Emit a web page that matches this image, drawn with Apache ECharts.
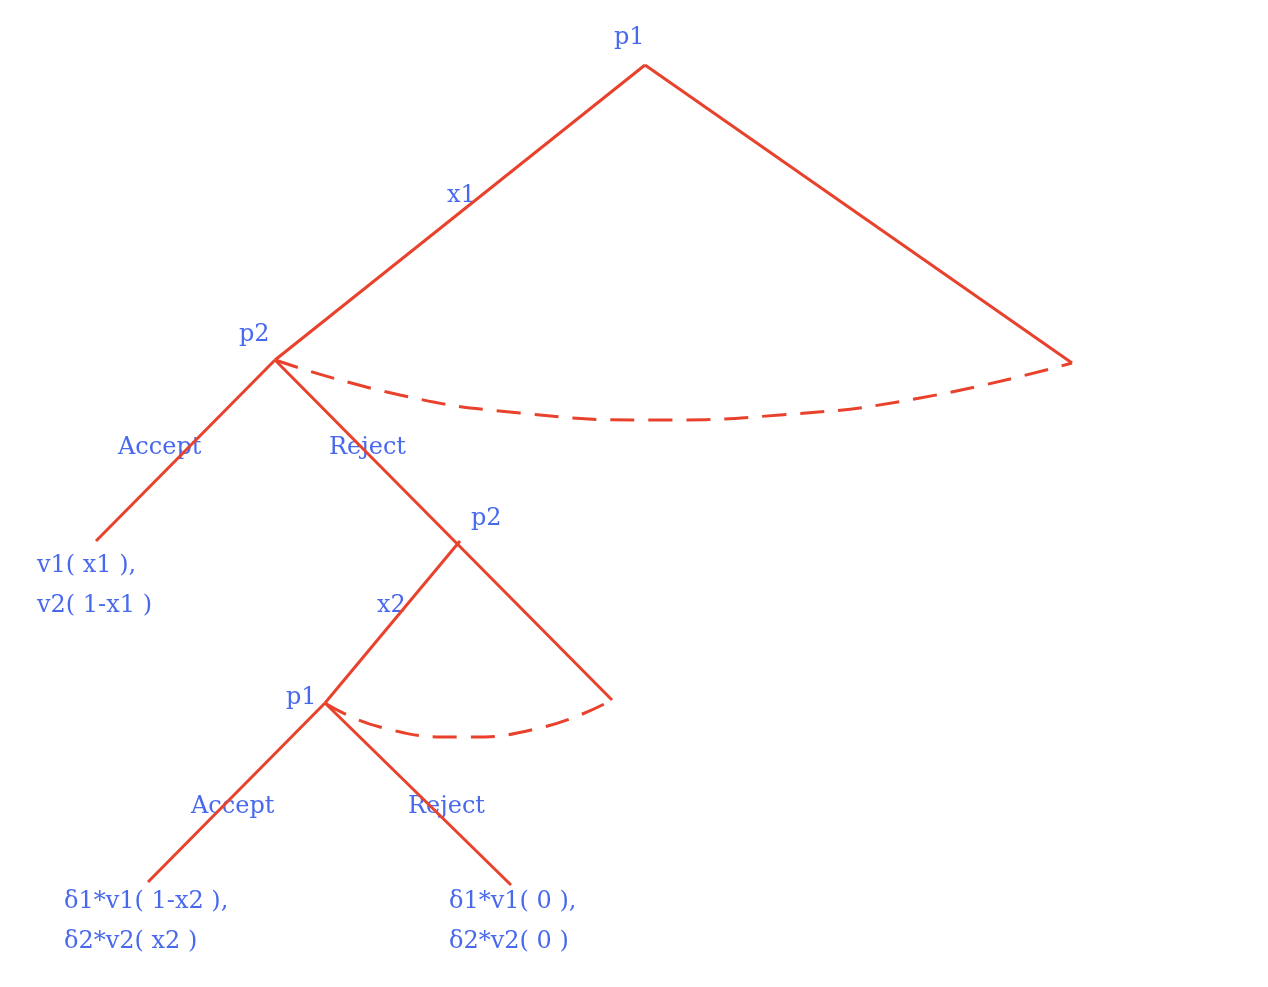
<!DOCTYPE html>
<html>
<head>
<meta charset="utf-8">
<script src="https://cdn.jsdelivr.net/npm/echarts@6/dist/echarts.min.js"></script>
<style>html,body{margin:0;padding:0;background:#fff}#chart{width:1268px;height:987px}</style>
</head>
<body>
<div id="chart"></div>
<script>
// tree edges: [x1, y1, x2, y2] in page coordinates
var edges = [
    [645, 65, 275, 360],
    [645, 65, 1072, 363],
    [275, 360, 96, 541],
    [275, 360, 612, 700],
    [460, 541, 325, 703],
    [325, 703, 148, 882],
    [325, 703, 511, 885]
];
// information sets (dashed arcs)
var arcBig = [[275, 360], [400, 395], [520, 413], [650, 420], [780, 415], [920, 398], [1072, 363]];
var arcSmall = [[325, 703], [380, 727], [460, 737], [540, 728], [612, 700]];
// labels: [x, y, text]
var labels = [
    [614, 38, 'p1'],
    [447, 196, 'x1'],
    [239, 335, 'p2'],
    [118, 448, 'Accept'],
    [329, 448, 'Reject'],
    [471, 519, 'p2'],
    [377, 606, 'x2'],
    [286, 698, 'p1'],
    [37, 566, 'v1( x1 ),'],
    [37, 606, 'v2( 1-x1 )'],
    [191, 807, 'Accept'],
    [408, 807, 'Reject'],
    [64, 902, 'δ1*v1( 1-x2 ),'],
    [64, 942, 'δ2*v2( x2 )'],
    [449, 902, 'δ1*v1( 0 ),'],
    [449, 942, 'δ2*v2( 0 )']
];

var red = '#e8412c';
var blue = '#1a44e8';
var series = [];
edges.forEach(function (e) {
    series.push({
        type: 'line', data: [[e[0], e[1]], [e[2], e[3]]],
        symbol: 'none', lineStyle: { color: red, width: 3 }, silent: true
    });
});
[arcBig, arcSmall].forEach(function (a) {
    series.push({
        type: 'line', data: a, smooth: true, symbol: 'none', silent: true,
        lineStyle: { color: red, width: 3, type: [24, 14] }
    });
});
series.push({
    type: 'scatter', symbolSize: 0, silent: true,
    data: labels.map(function (l) { return { value: [l[0], l[1]], name: l[2] }; }),
    label: {
        show: true, position: 'inside', align: 'left', verticalAlign: 'middle',
        formatter: function (p) { return p.name; },
        color: blue, fontSize: 24, fontFamily: 'DejaVu Serif, Liberation Serif, serif'
    }
});

var chart = echarts.init(document.getElementById('chart'));
chart.setOption({
    animation: false,
    grid: { left: 0, right: 0, top: 0, bottom: 0 },
    xAxis: { type: 'value', min: 0, max: 1268, show: false },
    yAxis: { type: 'value', min: 0, max: 987, inverse: true, show: false },
    series: series
});
</script>
</body>
</html>
